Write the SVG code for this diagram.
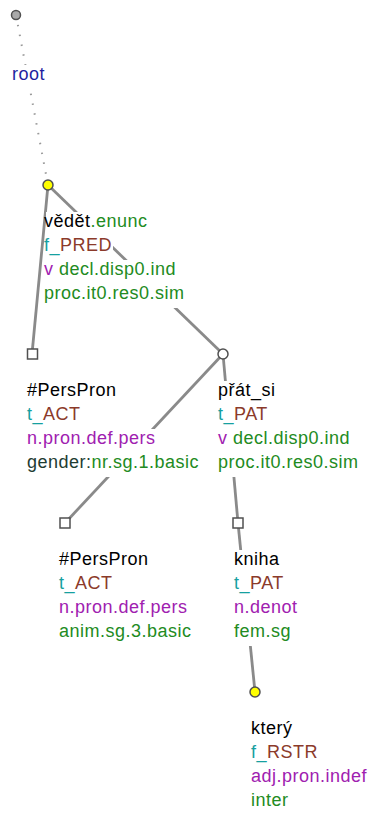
<svg xmlns="http://www.w3.org/2000/svg" width="371" height="814" viewBox="0 0 371 814">
<style>
text{font-family:"Liberation Sans",Arial,sans-serif;font-size:18px;letter-spacing:0.5px}
.bg{fill:#fff}
.k{fill:#000}.g{fill:#228b22}.tl{fill:#16a0a0}.br{fill:#8b3a2a}.pu{fill:#a020b0}.dk{fill:#1e3c32}.rt{fill:#1f1f9f}
.e{stroke:#8a8a8a;stroke-width:2.8;fill:none}
.dot{stroke:#999;stroke-width:2;stroke-dasharray:1.5 8.5;fill:none}
.nd{stroke:#505050;stroke-width:1.5}
</style>
<rect width="371" height="814" fill="#fff"/>
<g id="connectors">
<line class="dot" x1="16" y1="15" x2="48" y2="185"/>
<line class="e" x1="48" y1="185" x2="32" y2="354"/>
<line class="e" x1="48" y1="185" x2="223" y2="354"/>
<line class="e" x1="223" y1="354" x2="65" y2="523"/>
<line class="e" x1="223" y1="354" x2="238" y2="523"/>
<line class="e" x1="238" y1="523" x2="255" y2="692"/>
</g>
<g id="root">
<rect class="bg" x="11" y="65" width="35" height="24"/>
<text x="12" y="80" class="rt">root</text>
<circle class="nd" cx="16" cy="15" r="4.5" fill="#aaa"/>
</g>
<g id="vedet">
<rect class="bg" x="46" y="212" width="104" height="24"/>
<rect class="bg" x="46" y="236" width="67" height="24"/>
<rect class="bg" x="46" y="260" width="131" height="24"/>
<rect class="bg" x="46" y="284" width="140" height="24"/>
<text x="44" y="227"><tspan class="k">vědět</tspan><tspan class="g">.enunc</tspan></text>
<text x="44" y="251"><tspan class="tl">f_</tspan><tspan class="br">PRED</tspan></text>
<text x="44" y="275"><tspan class="pu">v</tspan><tspan class="g"> decl.disp0.ind</tspan></text>
<text x="44" y="299" class="g">proc.it0.res0.sim</text>
<circle class="nd" cx="48" cy="185" r="5" fill="#ffff00"/>
</g>
<g id="perspron1">
<rect class="bg" x="26" y="381" width="92" height="24"/>
<rect class="bg" x="26" y="405" width="56" height="24"/>
<rect class="bg" x="26" y="429" width="131" height="24"/>
<rect class="bg" x="26" y="453" width="176" height="24"/>
<text x="27" y="396" class="k">#PersPron</text>
<text x="27" y="420"><tspan class="tl">t_</tspan><tspan class="br">ACT</tspan></text>
<text x="27" y="444" class="pu">n.pron.def.pers</text>
<text x="27" y="468"><tspan class="dk">gender:</tspan><tspan class="g">nr.sg.1.basic</tspan></text>
<rect class="nd" x="27.5" y="349" width="10" height="10" fill="#fff"/>
</g>
<g id="prat_si">
<rect class="bg" x="217" y="381" width="60" height="24"/>
<rect class="bg" x="217" y="405" width="55" height="24"/>
<rect class="bg" x="217" y="429" width="135" height="24"/>
<rect class="bg" x="217" y="453" width="143" height="24"/>
<text x="218" y="396" class="k">přát_si</text>
<text x="218" y="420"><tspan class="tl">t_</tspan><tspan class="br">PAT</tspan></text>
<text x="218" y="444"><tspan class="pu">v</tspan><tspan class="g"> decl.disp0.ind</tspan></text>
<text x="218" y="468" class="g">proc.it0.res0.sim</text>
<circle class="nd" cx="223" cy="354" r="5" fill="#fff"/>
</g>
<g id="perspron2">
<rect class="bg" x="58" y="550" width="92" height="24"/>
<rect class="bg" x="58" y="574" width="56" height="24"/>
<rect class="bg" x="58" y="598" width="131" height="24"/>
<rect class="bg" x="58" y="622" width="135" height="24"/>
<text x="59" y="565" class="k">#PersPron</text>
<text x="59" y="589"><tspan class="tl">t_</tspan><tspan class="br">ACT</tspan></text>
<text x="59" y="613" class="pu">n.pron.def.pers</text>
<text x="59" y="637" class="g">anim.sg.3.basic</text>
<rect class="nd" x="60" y="518" width="10" height="10" fill="#fff"/>
</g>
<g id="kniha">
<rect class="bg" x="233" y="550" width="48" height="24"/>
<rect class="bg" x="233" y="574" width="55" height="24"/>
<rect class="bg" x="233" y="598" width="66" height="24"/>
<rect class="bg" x="233" y="622" width="60" height="24"/>
<text x="234" y="565" class="k">kniha</text>
<text x="234" y="589"><tspan class="tl">t_</tspan><tspan class="br">PAT</tspan></text>
<text x="234" y="613" class="pu">n.denot</text>
<text x="234" y="637" class="g">fem.sg</text>
<rect class="nd" x="233" y="518" width="10" height="10" fill="#fff"/>
</g>
<g id="ktery">
<rect class="bg" x="250" y="719" width="44" height="24"/>
<rect class="bg" x="250" y="743" width="70" height="24"/>
<rect class="bg" x="250" y="767" width="119" height="24"/>
<rect class="bg" x="250" y="791" width="40" height="23"/>
<text x="251" y="734" class="k">který</text>
<text x="251" y="758"><tspan class="tl">f_</tspan><tspan class="br">RSTR</tspan></text>
<text x="251" y="782" class="pu">adj.pron.indef</text>
<text x="251" y="806" class="g">inter</text>
<circle class="nd" cx="255" cy="692" r="5" fill="#ffff00"/>
</g>
</svg>
